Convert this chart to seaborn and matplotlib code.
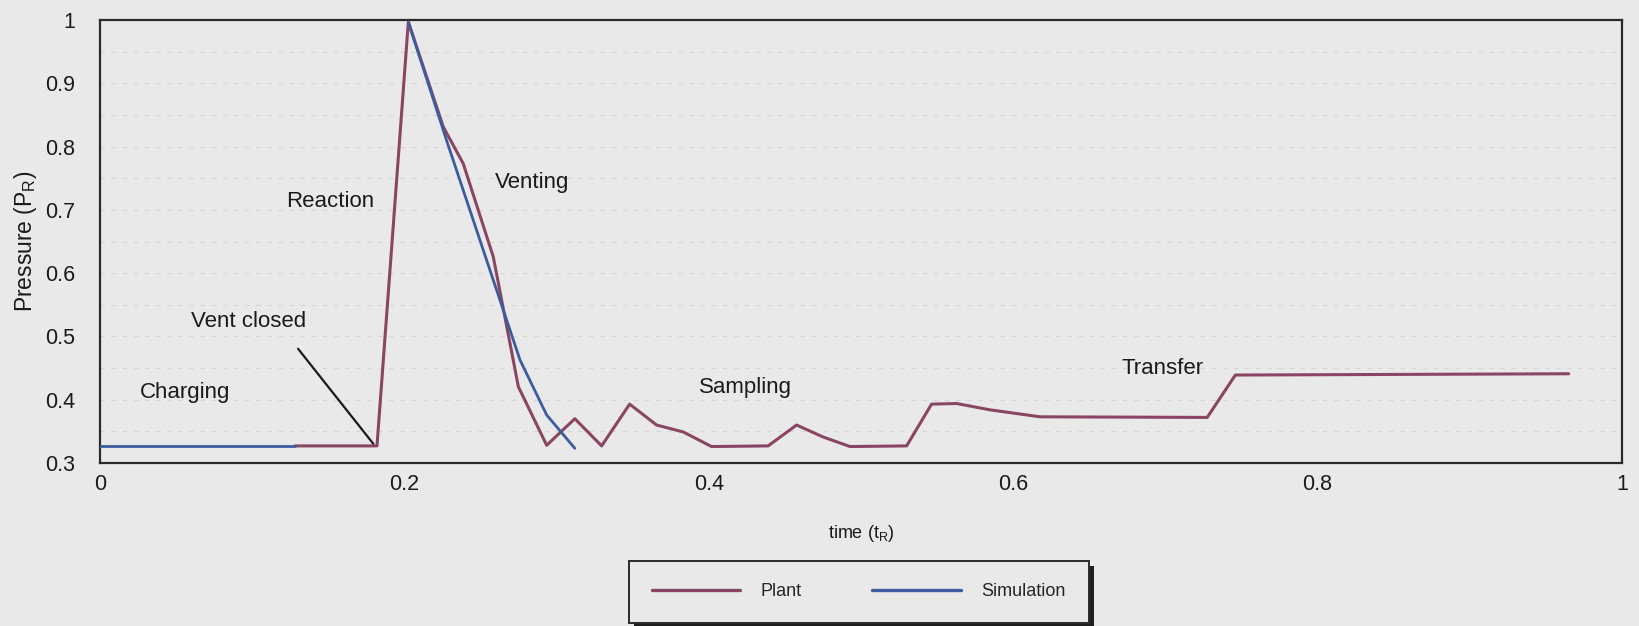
import numpy as np
import pandas as pd
import matplotlib
matplotlib.use("Agg")
import matplotlib.pyplot as plt
from matplotlib.ticker import FuncFormatter, MultipleLocator
from matplotlib.patches import Rectangle
import seaborn as sns

# Plant pressure record (normalised time, normalised pressure)
plant_t = [0.128, 0.182, 0.2026, 0.2256, 0.2387, 0.2584, 0.2749, 0.2935, 0.312,
           0.3296, 0.348, 0.3657, 0.3833, 0.4018, 0.439, 0.4577, 0.4752, 0.4928,
           0.530, 0.5464, 0.5628, 0.5848, 0.6176, 0.7275, 0.746, 0.965]
plant_p = [0.327, 0.327, 0.997, 0.831, 0.773, 0.626, 0.4205, 0.328, 0.370,
           0.327, 0.393, 0.360, 0.349, 0.326, 0.327, 0.360, 0.341, 0.326,
           0.327, 0.393, 0.394, 0.384, 0.373, 0.372, 0.439, 0.441]

# Simulation: charging phase, then the venting transient
sim_charge_t = [0.0, 0.128]
sim_charge_p = [0.327, 0.327]
sim_vent_t = [0.2026, 0.2277, 0.2628, 0.276, 0.2935, 0.312]
sim_vent_p = [0.997, 0.810, 0.5575, 0.4627, 0.3758, 0.3232]

phase_labels = ["Charging", "Vent closed", "Reaction", "Venting", "Sampling", "Transfer"]
phase_x = [0.0556, 0.0976, 0.151, 0.2836, 0.4238, 0.698]
phase_y = [0.411, 0.523, 0.714, 0.743, 0.4196, 0.45]

x_ticks = [0, 0.2, 0.4, 0.6, 0.8, 1.0]
y_ticks = [0.3, 0.4, 0.5, 0.6, 0.7, 0.8, 0.9, 1.0]

BG = "#e9e9e9"
PLANT_C = "#8a4563"
SIM_C = "#3b5c9e"
INK = "#1a1a1a"

sns.set_theme(style="white")
plt.rcParams["font.family"] = ["Liberation Sans", "DejaVu Sans"]
plt.rcParams["mathtext.fontset"] = "custom"
plt.rcParams["mathtext.rm"] = "Liberation Sans"

df = pd.concat([
    pd.DataFrame({"t": plant_t, "p": plant_p, "series": "Plant", "seg": 0}),
    pd.DataFrame({"t": sim_charge_t, "p": sim_charge_p, "series": "Simulation", "seg": 1}),
    pd.DataFrame({"t": sim_vent_t, "p": sim_vent_p, "series": "Simulation", "seg": 2}),
], ignore_index=True)

fig = plt.figure(figsize=(16.39, 6.26), dpi=100, facecolor=BG)
ax = fig.add_axes([0.061, 0.2604, 0.9286, 0.7076])
ax.set_facecolor(BG)

sns.lineplot(data=df[df.series == "Plant"], x="t", y="p", units="seg", estimator=None,
             sort=False, color=PLANT_C, lw=2.2, ax=ax, zorder=3, legend=False)
sns.lineplot(data=df[df.series == "Simulation"], x="t", y="p", units="seg", estimator=None,
             sort=False, color=SIM_C, lw=2.0, ax=ax, zorder=4, legend=False)

ax.set_xlim(0, 1)
ax.set_ylim(0.3, 1.0)
ax.set_xticks(x_ticks)
ax.set_yticks(y_ticks)
fmt = FuncFormatter(lambda v, _: f"{v:g}")
ax.xaxis.set_major_formatter(fmt)
ax.yaxis.set_major_formatter(fmt)
ax.yaxis.set_minor_locator(MultipleLocator(0.05))
ax.grid(which="both", axis="y", color="#c8c8c8", lw=0.8, ls=(0, (4, 6)), alpha=0.6)
ax.tick_params(axis="both", which="both", length=0, labelsize=15.5, colors=INK)
ax.tick_params(axis="y", pad=18)
ax.tick_params(axis="x", pad=8)

for s in ax.spines.values():
    s.set_color("#2a2a2a")
    s.set_linewidth(1.6)

ax.set_xlabel("time (t$_\\mathregular{R}$)", fontsize=13, color=INK, labelpad=20)
ax.set_ylabel("Pressure (P$_\\mathregular{R}$)", fontsize=16.5, color=INK, labelpad=4)

for lab, x, y in zip(phase_labels, phase_x, phase_y):
    ax.text(x, y, lab, ha="center", va="center", fontsize=16, color=INK, zorder=5)

# leader from the "Vent closed" label down to the start of the reaction
ax.annotate("", xy=(0.1807, 0.327), xytext=(0.129, 0.484),
            arrowprops=dict(arrowstyle="-", color=INK, lw=1.6), zorder=5)

handles = [plt.Line2D([], [], color=PLANT_C, lw=2.4),
           plt.Line2D([], [], color=SIM_C, lw=2.4)]
leg = fig.legend(handles, ["Plant", "Simulation"], ncol=2, loc="center",
                 bbox_to_anchor=(0.524, 0.055), fontsize=13, frameon=True,
                 fancybox=False, handlelength=4.9, handletextpad=1.15,
                 columnspacing=3.9, borderpad=1.25, borderaxespad=0)
frame = leg.get_frame()
frame.set_edgecolor("#2a2a2a")
frame.set_facecolor(BG)
frame.set_linewidth(1.4)
frame.set_alpha(1)

# solid offset shadow behind the legend box
fig.canvas.draw()
bb = leg.get_window_extent()
W, H = fig.bbox.width, fig.bbox.height
off = 5
shadow = Rectangle(((bb.x0 + off) / W, (bb.y0 - off) / H), bb.width / W, bb.height / H,
                   transform=fig.transFigure, facecolor="#1e1e1e", edgecolor="none",
                   zorder=leg.get_zorder() - 0.5)
fig.add_artist(shadow)

fig.savefig("out.png", dpi=100, facecolor=BG)
